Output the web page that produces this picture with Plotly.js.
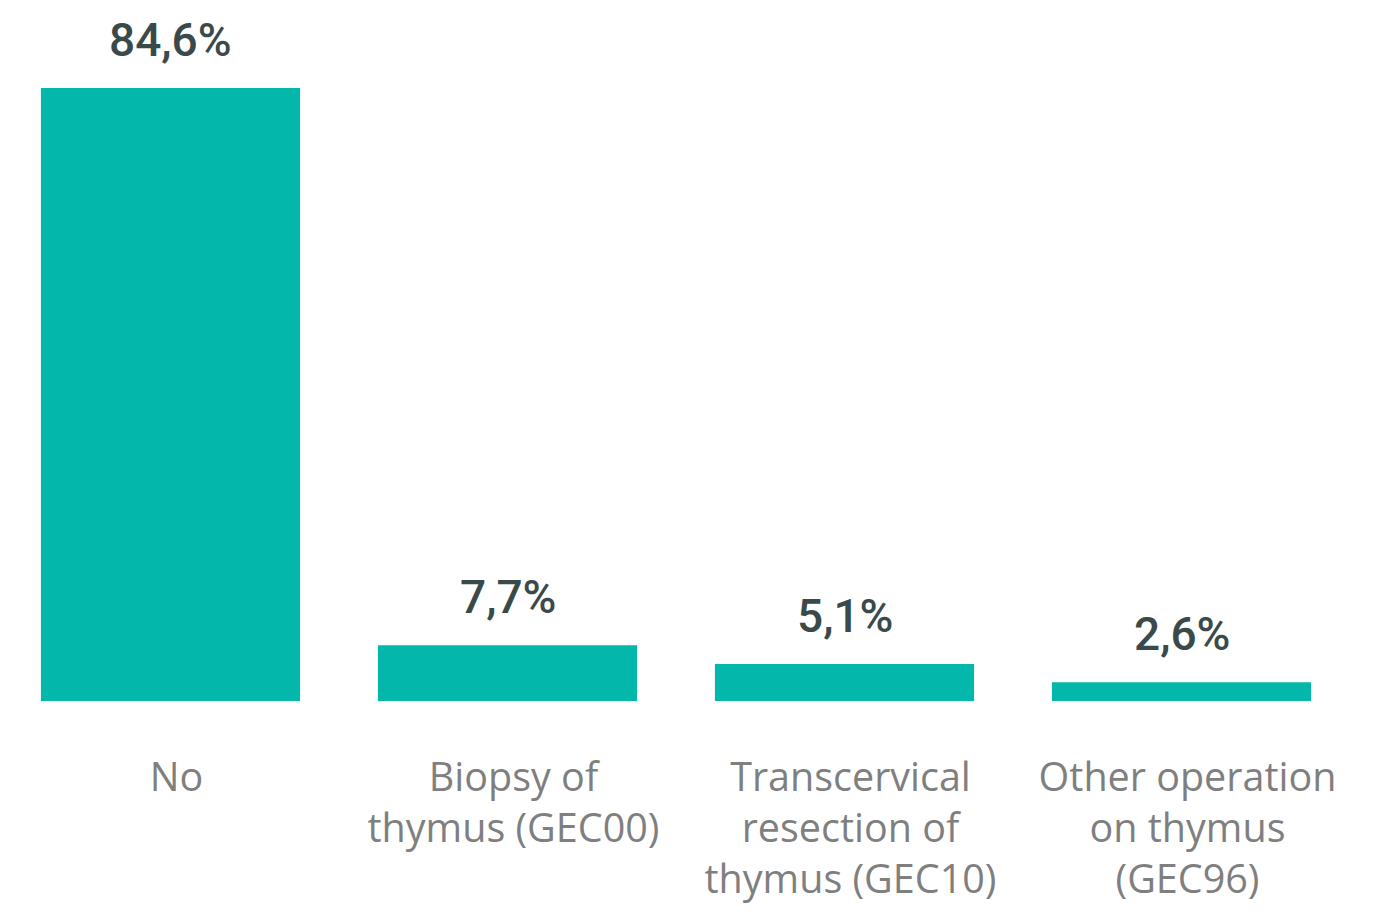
<!DOCTYPE html>
<html>
<head>
<meta charset="utf-8">
<script src="https://cdn.plot.ly/plotly-3.0.1.min.js"></script>
<style>
  html, body { margin: 0; padding: 0; background: #fff; }
  #chart { width: 1399px; height: 915px; }
</style>
</head>
<body>
<div id="chart"></div>
<script>
const categories = [
    "No",
    "Biopsy of<br>thymus (GEC00)",
    "Transcervical<br>resection of<br>thymus (GEC10)",
    "Other operation<br>on thymus<br>(GEC96)"
];
const shares = [84.6, 7.7, 5.1, 2.6];
const shareLabels = ["84,6%", "7,7%", "5,1%", "2,6%"];

const barColor = "#03b8ab";

const data = [{
    type: "bar",
    x: categories,
    y: shares,
    marker: { color: barColor },
    hoverinfo: "none"
}];

// value labels sit well above each bar
const annotations = categories.map((c, i) => ({
    x: c,
    y: shares[i],
    xref: "x",
    yref: "y",
    text: shareLabels[i],
    showarrow: false,
    yanchor: "bottom",
    yshift: 19,
    font: { family: "Roboto, 'DejaVu Sans'", size: 46, weight: 500, color: "#3a4a4a" }
}));

const layout = {
    width: 1399,
    height: 915,
    margin: { l: 2, r: 49, t: 0, b: 214 },
    paper_bgcolor: "#ffffff",
    plot_bgcolor: "#ffffff",
    showlegend: false,
    bargap: 0.231,
    xaxis: {
        type: "category",
        showgrid: false,
        zeroline: false,
        showline: false,
        ticks: "",
        ticklabelstandoff: 49,
        ticklabelshift: 6,
        tickfont: { family: "'Open Sans', 'Noto Sans'", size: 39.5, color: "#7f7f7f" }
    },
    yaxis: {
        range: [0, 96.75],
        showgrid: false,
        zeroline: false,
        showline: false,
        showticklabels: false,
        ticks: ""
    },
    annotations: annotations
};

Plotly.newPlot("chart", data, layout, { displayModeBar: false, staticPlot: true });
</script>
</body>
</html>
